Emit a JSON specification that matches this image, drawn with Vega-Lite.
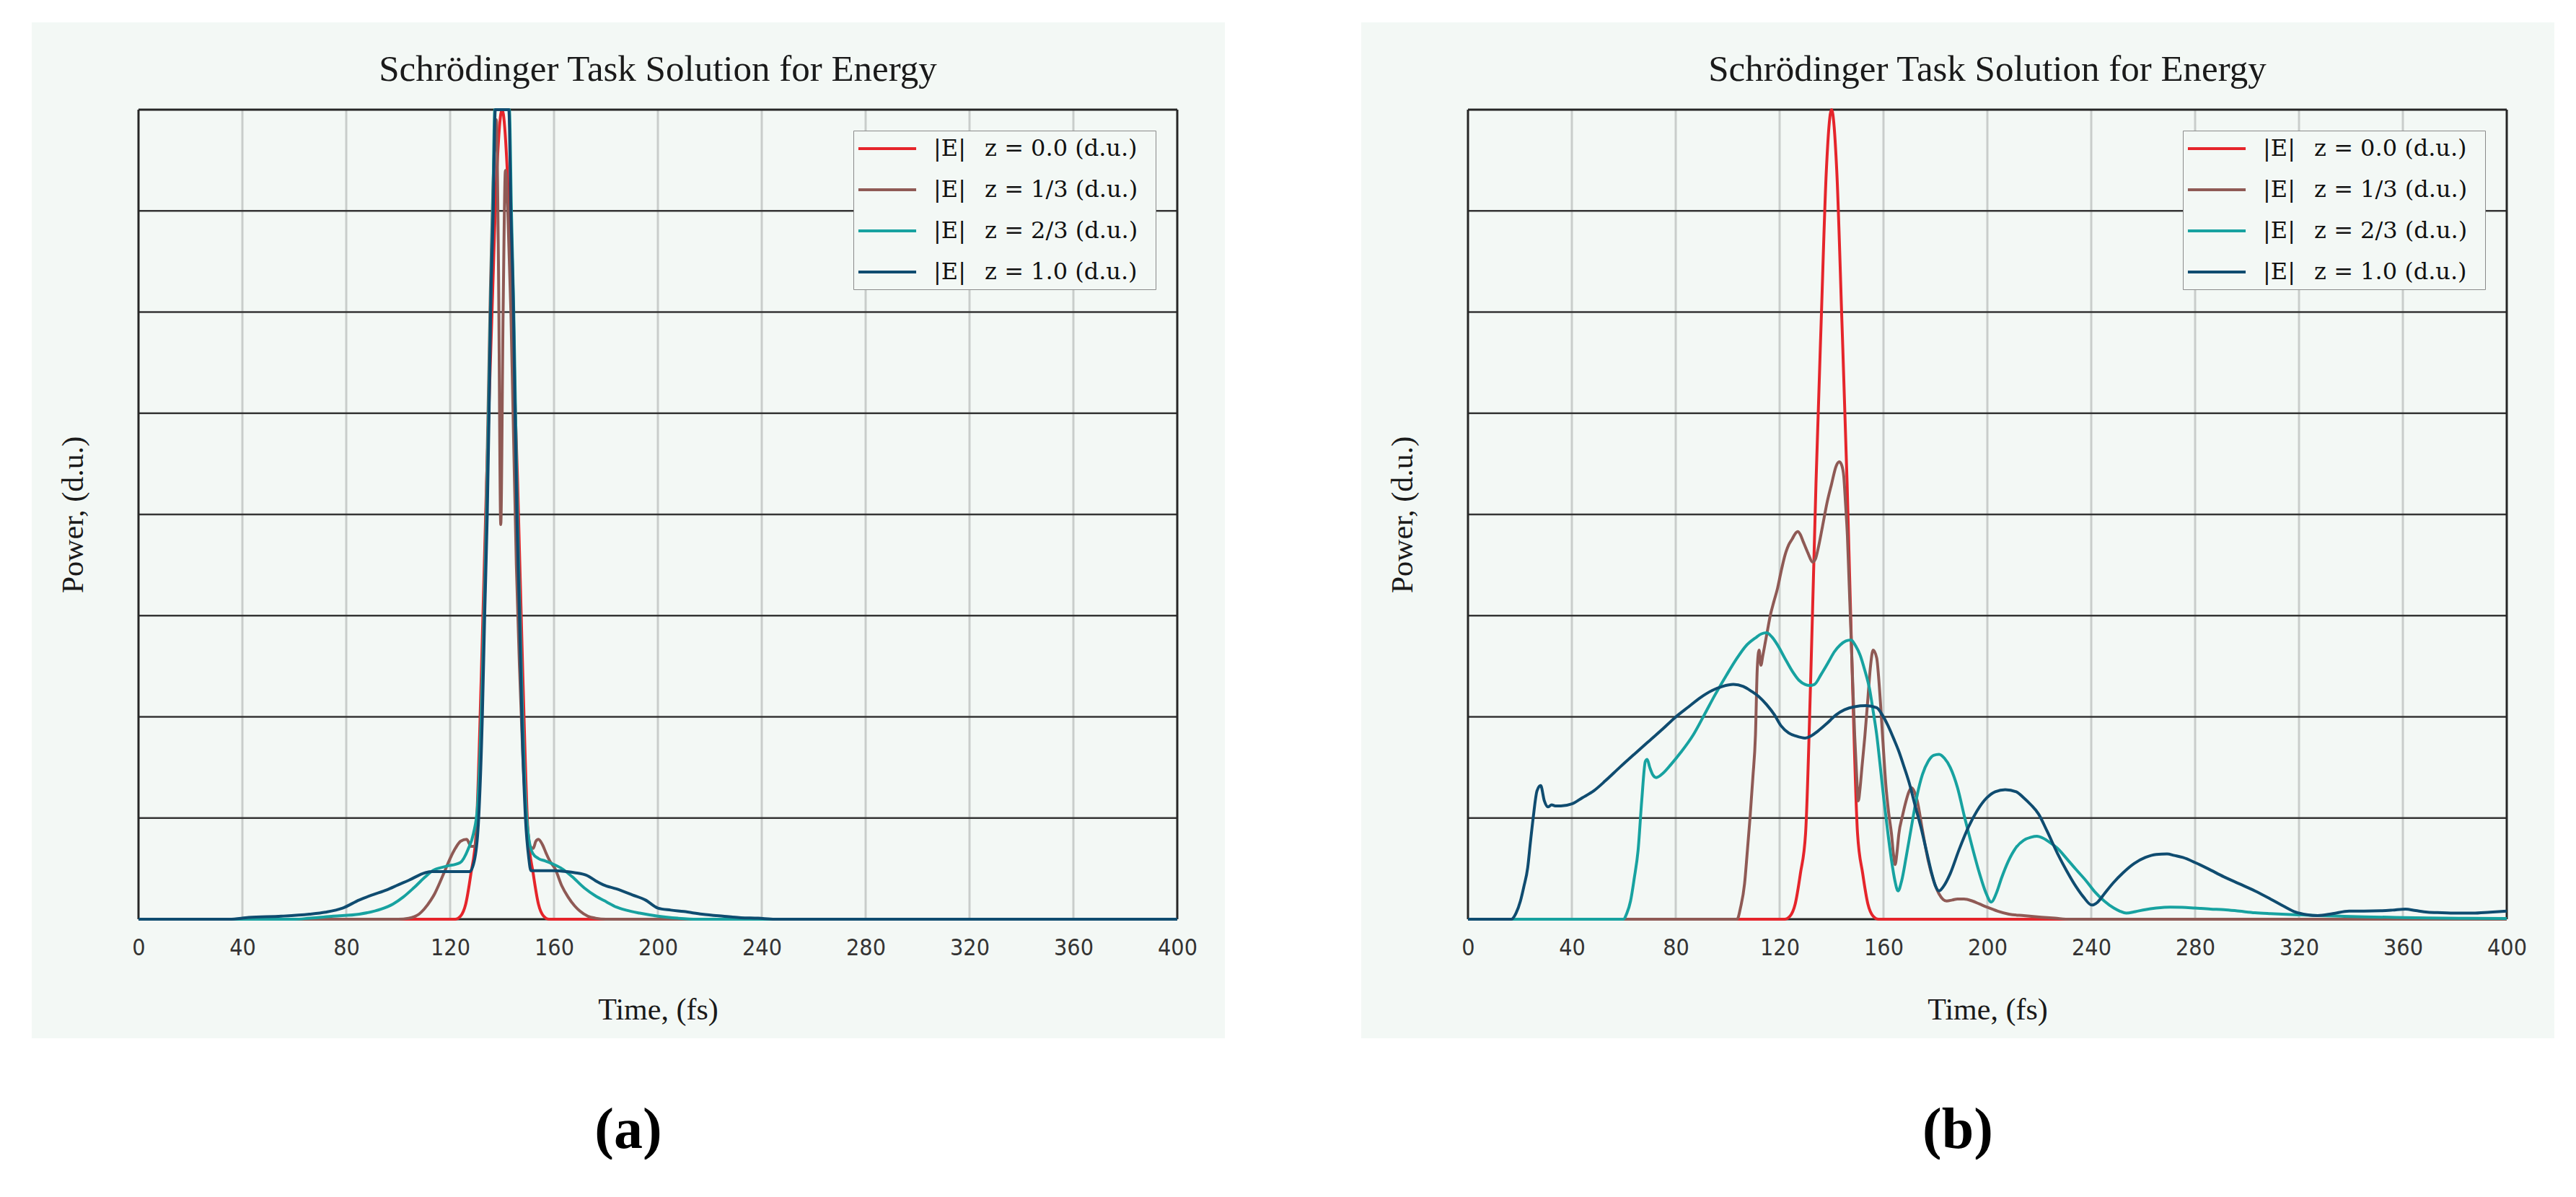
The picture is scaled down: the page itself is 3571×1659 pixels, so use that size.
{
  "$schema": "https://vega.github.io/schema/vega-lite/v6.json",
  "background": "white",
  "padding": {"left": 44, "top": 31, "right": 0, "bottom": 0},
  "config": {
    "view": {"stroke": null},
    "axisX": {"grid": false, "ticks": false, "tickSize": 0, "domain": false, "offset": -165, "labelPadding": 39, "labelBaseline": "middle", "labelFont": "Liberation Sans Narrow, DejaVu Sans Condensed, sans-serif", "labelFontSize": 32, "labelColor": "#333333", "labelFlush": false, "labelOverlap": false, "titleFont": "Liberation Serif", "titleFontSize": 42, "titleFontWeight": "normal", "titleColor": "#1a1a1a", "titleBaseline": "alphabetic", "titleY": 138},
    "axisY": {"grid": false, "ticks": false, "labels": false, "domain": false, "titleFont": "Liberation Serif", "titleFontSize": 42, "titleFontWeight": "normal", "titleColor": "#1a1a1a", "titleAngle": 270, "titleX": 57, "titleY": 682, "titleAlign": "center", "titleBaseline": "middle"},
    "legend": {"orient": "none", "legendX": 1139, "legendY": 150, "fillColor": "#f3f8f5", "strokeColor": "#8a8a8a", "padding": 8, "rowPadding": 24, "symbolType": "M-2.67,0L2.67,0", "symbolSize": 900, "symbolStrokeWidth": 4, "symbolOffset": 22, "labelFont": "DejaVu Serif", "labelFontSize": 32, "labelColor": "#111111", "labelOffset": 47, "labelLimit": 600},
    "title": {"font": "Liberation Serif", "fontSize": 51, "fontWeight": "normal", "color": "#1a1a1a"}
  },
  "datasets": {
    "a": [
      {"s":"z0","t":0,"p":0},{"s":"z0","t":120,"p":0},{"s":"z0","t":122,"p":0},{"s":"z0","t":124,"p":0.03},{"s":"z0","t":126,"p":0.15},{"s":"z0","t":128,"p":0.45},{"s":"z0","t":130,"p":0.85},{"s":"z0","t":132,"p":2.4},{"s":"z0","t":134,"p":4.3},{"s":"z0","t":136,"p":5.9},{"s":"z0","t":138,"p":7.4},{"s":"z0","t":140,"p":8},{"s":"z0","t":142,"p":7.4},{"s":"z0","t":144,"p":5.9},{"s":"z0","t":146,"p":4.3},{"s":"z0","t":148,"p":2.4},{"s":"z0","t":150,"p":0.85},{"s":"z0","t":152,"p":0.45},{"s":"z0","t":154,"p":0.15},{"s":"z0","t":156,"p":0.03},{"s":"z0","t":158,"p":0},{"s":"z0","t":160,"p":0},{"s":"z0","t":400,"p":0},
      {"s":"z13","t":0,"p":0},{"s":"z13","t":100,"p":0},{"s":"z13","t":104,"p":0.01},{"s":"z13","t":108,"p":0.05},{"s":"z13","t":110,"p":0.1},{"s":"z13","t":112.6,"p":0.19},{"s":"z13","t":114,"p":0.25},{"s":"z13","t":116,"p":0.36},{"s":"z13","t":118,"p":0.48},{"s":"z13","t":120,"p":0.6},{"s":"z13","t":122,"p":0.7},{"s":"z13","t":124,"p":0.77},{"s":"z13","t":126.4,"p":0.79},{"s":"z13","t":128,"p":0.72},{"s":"z13","t":129.5,"p":0.72},{"s":"z13","t":131,"p":1.2},{"s":"z13","t":132.5,"p":2.5},{"s":"z13","t":134,"p":4.2},{"s":"z13","t":135.5,"p":6.2},{"s":"z13","t":137,"p":7.6},{"s":"z13","t":137.8,"p":7.9},{"s":"z13","t":138.6,"p":6.5},{"s":"z13","t":139.5,"p":3.9},{"s":"z13","t":140.4,"p":6.0},{"s":"z13","t":141.3,"p":7.4},{"s":"z13","t":142.2,"p":7.0},{"s":"z13","t":143.4,"p":6},{"s":"z13","t":144.4,"p":4.8},{"s":"z13","t":145.5,"p":3.5},{"s":"z13","t":146.7,"p":2.5},{"s":"z13","t":148,"p":1.6},{"s":"z13","t":149.5,"p":1.0},{"s":"z13","t":150.8,"p":0.72},{"s":"z13","t":152,"p":0.7},{"s":"z13","t":153,"p":0.77},{"s":"z13","t":154,"p":0.79},{"s":"z13","t":155.5,"p":0.74},{"s":"z13","t":157,"p":0.65},{"s":"z13","t":158.5,"p":0.57},{"s":"z13","t":160.4,"p":0.5},{"s":"z13","t":163,"p":0.33},{"s":"z13","t":165.4,"p":0.22},{"s":"z13","t":168,"p":0.13},{"s":"z13","t":170,"p":0.08},{"s":"z13","t":173,"p":0.03},{"s":"z13","t":176,"p":0.01},{"s":"z13","t":180,"p":0},{"s":"z13","t":400,"p":0},
      {"s":"z23","t":0,"p":0},{"s":"z23","t":60,"p":0},{"s":"z23","t":65.8,"p":0.01},{"s":"z23","t":75,"p":0.03},{"s":"z23","t":85,"p":0.05},{"s":"z23","t":93.5,"p":0.1},{"s":"z23","t":98,"p":0.15},{"s":"z23","t":102,"p":0.22},{"s":"z23","t":106,"p":0.31},{"s":"z23","t":110.5,"p":0.42},{"s":"z23","t":113.3,"p":0.48},{"s":"z23","t":118,"p":0.52},{"s":"z23","t":123.9,"p":0.56},{"s":"z23","t":126.9,"p":0.69},{"s":"z23","t":129,"p":0.85},{"s":"z23","t":130.5,"p":1.1},{"s":"z23","t":132,"p":2},{"s":"z23","t":133.1,"p":3},{"s":"z23","t":134.1,"p":4},{"s":"z23","t":134.8,"p":5},{"s":"z23","t":135.5,"p":6},{"s":"z23","t":136.4,"p":7},{"s":"z23","t":137.2,"p":8},{"s":"z23","t":140,"p":8},{"s":"z23","t":142.8,"p":8},{"s":"z23","t":143.6,"p":7},{"s":"z23","t":144.5,"p":6},{"s":"z23","t":145.2,"p":5},{"s":"z23","t":145.9,"p":4},{"s":"z23","t":146.9,"p":3},{"s":"z23","t":147.9,"p":2},{"s":"z23","t":149,"p":1.2},{"s":"z23","t":150,"p":0.85},{"s":"z23","t":151.8,"p":0.65},{"s":"z23","t":154,"p":0.6},{"s":"z23","t":156.7,"p":0.575},{"s":"z23","t":160,"p":0.54},{"s":"z23","t":163,"p":0.5},{"s":"z23","t":167,"p":0.42},{"s":"z23","t":171.6,"p":0.31},{"s":"z23","t":176,"p":0.23},{"s":"z23","t":180.3,"p":0.17},{"s":"z23","t":184,"p":0.12},{"s":"z23","t":187.7,"p":0.09},{"s":"z23","t":193,"p":0.06},{"s":"z23","t":200,"p":0.03},{"s":"z23","t":207.6,"p":0.01},{"s":"z23","t":215,"p":0},{"s":"z23","t":400,"p":0},
      {"s":"z1","t":0,"p":0},{"s":"z1","t":35,"p":0},{"s":"z1","t":42.4,"p":0.017},{"s":"z1","t":55,"p":0.03},{"s":"z1","t":65.8,"p":0.05},{"s":"z1","t":72,"p":0.07},{"s":"z1","t":78.6,"p":0.11},{"s":"z1","t":85,"p":0.19},{"s":"z1","t":90,"p":0.24},{"s":"z1","t":95.6,"p":0.29},{"s":"z1","t":100,"p":0.34},{"s":"z1","t":104.1,"p":0.385},{"s":"z1","t":110.5,"p":0.46},{"s":"z1","t":113,"p":0.47},{"s":"z1","t":120,"p":0.47},{"s":"z1","t":127.5,"p":0.47},{"s":"z1","t":129.5,"p":0.6},{"s":"z1","t":131,"p":1.0},{"s":"z1","t":132.4,"p":2},{"s":"z1","t":133.3,"p":3},{"s":"z1","t":134.3,"p":4},{"s":"z1","t":135,"p":5},{"s":"z1","t":135.6,"p":6},{"s":"z1","t":136.6,"p":7},{"s":"z1","t":137.4,"p":8},{"s":"z1","t":140,"p":8},{"s":"z1","t":142.6,"p":8},{"s":"z1","t":143.4,"p":7},{"s":"z1","t":144.4,"p":6},{"s":"z1","t":145,"p":5},{"s":"z1","t":145.7,"p":4},{"s":"z1","t":146.7,"p":3},{"s":"z1","t":147.6,"p":2},{"s":"z1","t":149,"p":1.0},{"s":"z1","t":150.3,"p":0.6},{"s":"z1","t":151.1,"p":0.48},{"s":"z1","t":155,"p":0.48},{"s":"z1","t":160,"p":0.48},{"s":"z1","t":165,"p":0.47},{"s":"z1","t":167.9,"p":0.46},{"s":"z1","t":172.9,"p":0.43},{"s":"z1","t":176,"p":0.38},{"s":"z1","t":179,"p":0.34},{"s":"z1","t":184,"p":0.3},{"s":"z1","t":190.2,"p":0.24},{"s":"z1","t":195.2,"p":0.19},{"s":"z1","t":200,"p":0.11},{"s":"z1","t":205,"p":0.09},{"s":"z1","t":210,"p":0.076},{"s":"z1","t":217,"p":0.05},{"s":"z1","t":225,"p":0.03},{"s":"z1","t":232,"p":0.015},{"s":"z1","t":238.6,"p":0.01},{"s":"z1","t":245,"p":0},{"s":"z1","t":400,"p":0}
    ],
    "b": [
      {"s":"z0","t":0,"p":0},{"s":"z0","t":120,"p":0},{"s":"z0","t":122,"p":0},{"s":"z0","t":124,"p":0.03},{"s":"z0","t":126,"p":0.15},{"s":"z0","t":128,"p":0.45},{"s":"z0","t":130,"p":0.85},{"s":"z0","t":132,"p":2.4},{"s":"z0","t":134,"p":4.3},{"s":"z0","t":136,"p":5.9},{"s":"z0","t":138,"p":7.4},{"s":"z0","t":140,"p":8},{"s":"z0","t":142,"p":7.4},{"s":"z0","t":144,"p":5.9},{"s":"z0","t":146,"p":4.3},{"s":"z0","t":148,"p":2.4},{"s":"z0","t":150,"p":0.85},{"s":"z0","t":152,"p":0.45},{"s":"z0","t":154,"p":0.15},{"s":"z0","t":156,"p":0.03},{"s":"z0","t":158,"p":0},{"s":"z0","t":160,"p":0},{"s":"z0","t":400,"p":0},
      {"s":"z13","t":0,"p":0},{"s":"z13","t":103.6,"p":0},{"s":"z13","t":105,"p":0.12},{"s":"z13","t":106.5,"p":0.35},{"s":"z13","t":107.5,"p":0.65},{"s":"z13","t":108.6,"p":1.0},{"s":"z13","t":109.7,"p":1.4},{"s":"z13","t":110.7,"p":1.82},{"s":"z13","t":111.4,"p":2.48},{"s":"z13","t":112.1,"p":2.66},{"s":"z13","t":112.8,"p":2.51},{"s":"z13","t":113.5,"p":2.6},{"s":"z13","t":114.3,"p":2.71},{"s":"z13","t":115.3,"p":2.85},{"s":"z13","t":116.4,"p":3.0},{"s":"z13","t":117.8,"p":3.14},{"s":"z13","t":119.2,"p":3.27},{"s":"z13","t":120.6,"p":3.44},{"s":"z13","t":122.1,"p":3.6},{"s":"z13","t":123.5,"p":3.7},{"s":"z13","t":124.9,"p":3.76},{"s":"z13","t":126,"p":3.81},{"s":"z13","t":127,"p":3.83},{"s":"z13","t":128,"p":3.8},{"s":"z13","t":129.1,"p":3.73},{"s":"z13","t":130.9,"p":3.62},{"s":"z13","t":132.7,"p":3.53},{"s":"z13","t":133.8,"p":3.56},{"s":"z13","t":134.8,"p":3.66},{"s":"z13","t":136.5,"p":3.88},{"s":"z13","t":138.3,"p":4.12},{"s":"z13","t":140,"p":4.3},{"s":"z13","t":141.8,"p":4.48},{"s":"z13","t":143,"p":4.52},{"s":"z13","t":144,"p":4.48},{"s":"z13","t":144.7,"p":4.38},{"s":"z13","t":145.4,"p":4.1},{"s":"z13","t":146.1,"p":3.79},{"s":"z13","t":146.8,"p":3.3},{"s":"z13","t":147.5,"p":2.81},{"s":"z13","t":148.2,"p":2.3},{"s":"z13","t":148.9,"p":1.82},{"s":"z13","t":149.6,"p":1.45},{"s":"z13","t":150.3,"p":1.17},{"s":"z13","t":151,"p":1.3},{"s":"z13","t":151.7,"p":1.5},{"s":"z13","t":152.8,"p":1.8},{"s":"z13","t":153.9,"p":2.15},{"s":"z13","t":155,"p":2.5},{"s":"z13","t":156,"p":2.66},{"s":"z13","t":157.4,"p":2.58},{"s":"z13","t":158.1,"p":2.4},{"s":"z13","t":158.8,"p":2.15},{"s":"z13","t":159.8,"p":1.75},{"s":"z13","t":160.9,"p":1.33},{"s":"z13","t":162,"p":1.05},{"s":"z13","t":163.1,"p":0.84},{"s":"z13","t":163.8,"p":0.65},{"s":"z13","t":164.5,"p":0.54},{"s":"z13","t":165.2,"p":0.66},{"s":"z13","t":165.9,"p":0.84},{"s":"z13","t":167.3,"p":1.02},{"s":"z13","t":168.7,"p":1.17},{"s":"z13","t":169.8,"p":1.26},{"s":"z13","t":170.8,"p":1.3},{"s":"z13","t":171.9,"p":1.26},{"s":"z13","t":173,"p":1.17},{"s":"z13","t":175,"p":0.88},{"s":"z13","t":177.2,"p":0.58},{"s":"z13","t":179.3,"p":0.38},{"s":"z13","t":181.4,"p":0.25},{"s":"z13","t":184.3,"p":0.18},{"s":"z13","t":186.5,"p":0.19},{"s":"z13","t":188.5,"p":0.2},{"s":"z13","t":191,"p":0.2},{"s":"z13","t":194.2,"p":0.18},{"s":"z13","t":197,"p":0.15},{"s":"z13","t":199.8,"p":0.12},{"s":"z13","t":204,"p":0.08},{"s":"z13","t":208.3,"p":0.05},{"s":"z13","t":214,"p":0.035},{"s":"z13","t":220.8,"p":0.02},{"s":"z13","t":226,"p":0.01},{"s":"z13","t":232,"p":0},{"s":"z13","t":400,"p":0},
      {"s":"z23","t":0,"p":0},{"s":"z23","t":59.8,"p":0},{"s":"z23","t":61.2,"p":0.06},{"s":"z23","t":62.6,"p":0.18},{"s":"z23","t":64,"p":0.4},{"s":"z23","t":65.5,"p":0.68},{"s":"z23","t":66.9,"p":1.17},{"s":"z23","t":68.3,"p":1.56},{"s":"z23","t":69,"p":1.58},{"s":"z23","t":70,"p":1.5},{"s":"z23","t":71.1,"p":1.43},{"s":"z23","t":72.5,"p":1.4},{"s":"z23","t":75,"p":1.44},{"s":"z23","t":78.2,"p":1.53},{"s":"z23","t":82,"p":1.65},{"s":"z23","t":86.7,"p":1.82},{"s":"z23","t":91,"p":2.02},{"s":"z23","t":95.2,"p":2.22},{"s":"z23","t":99.5,"p":2.41},{"s":"z23","t":103.6,"p":2.58},{"s":"z23","t":107,"p":2.7},{"s":"z23","t":110.7,"p":2.78},{"s":"z23","t":113,"p":2.82},{"s":"z23","t":115,"p":2.83},{"s":"z23","t":117,"p":2.79},{"s":"z23","t":119.2,"p":2.71},{"s":"z23","t":122,"p":2.58},{"s":"z23","t":124.9,"p":2.45},{"s":"z23","t":127.5,"p":2.36},{"s":"z23","t":129.8,"p":2.32},{"s":"z23","t":131.6,"p":2.31},{"s":"z23","t":133.4,"p":2.32},{"s":"z23","t":136,"p":2.42},{"s":"z23","t":139,"p":2.55},{"s":"z23","t":141,"p":2.64},{"s":"z23","t":143.3,"p":2.71},{"s":"z23","t":145.5,"p":2.75},{"s":"z23","t":147.5,"p":2.76},{"s":"z23","t":149.3,"p":2.7},{"s":"z23","t":151,"p":2.61},{"s":"z23","t":152.8,"p":2.46},{"s":"z23","t":154.6,"p":2.28},{"s":"z23","t":156,"p":2.06},{"s":"z23","t":157.4,"p":1.82},{"s":"z23","t":158.8,"p":1.5},{"s":"z23","t":160.2,"p":1.17},{"s":"z23","t":161.7,"p":0.85},{"s":"z23","t":163.1,"p":0.58},{"s":"z23","t":164.4,"p":0.38},{"s":"z23","t":165.6,"p":0.28},{"s":"z23","t":167,"p":0.38},{"s":"z23","t":168.7,"p":0.61},{"s":"z23","t":170.8,"p":0.92},{"s":"z23","t":173,"p":1.23},{"s":"z23","t":175,"p":1.43},{"s":"z23","t":177.2,"p":1.56},{"s":"z23","t":179.3,"p":1.62},{"s":"z23","t":181.4,"p":1.63},{"s":"z23","t":183.5,"p":1.59},{"s":"z23","t":185.7,"p":1.5},{"s":"z23","t":188.5,"p":1.3},{"s":"z23","t":191.3,"p":1.0},{"s":"z23","t":194,"p":0.73},{"s":"z23","t":197,"p":0.45},{"s":"z23","t":199.3,"p":0.27},{"s":"z23","t":201.5,"p":0.17},{"s":"z23","t":203.5,"p":0.26},{"s":"z23","t":205.5,"p":0.41},{"s":"z23","t":208,"p":0.57},{"s":"z23","t":211.1,"p":0.71},{"s":"z23","t":214,"p":0.78},{"s":"z23","t":216.8,"p":0.81},{"s":"z23","t":219.1,"p":0.82},{"s":"z23","t":221.5,"p":0.8},{"s":"z23","t":224,"p":0.76},{"s":"z23","t":227,"p":0.7},{"s":"z23","t":230.5,"p":0.6},{"s":"z23","t":234.2,"p":0.49},{"s":"z23","t":238,"p":0.38},{"s":"z23","t":241.4,"p":0.27},{"s":"z23","t":245,"p":0.18},{"s":"z23","t":248.7,"p":0.11},{"s":"z23","t":251,"p":0.08},{"s":"z23","t":253.5,"p":0.06},{"s":"z23","t":257,"p":0.075},{"s":"z23","t":260.8,"p":0.095},{"s":"z23","t":265,"p":0.11},{"s":"z23","t":270.4,"p":0.12},{"s":"z23","t":275,"p":0.118},{"s":"z23","t":280,"p":0.11},{"s":"z23","t":286,"p":0.1},{"s":"z23","t":291,"p":0.095},{"s":"z23","t":297,"p":0.08},{"s":"z23","t":303,"p":0.064},{"s":"z23","t":309,"p":0.055},{"s":"z23","t":315,"p":0.048},{"s":"z23","t":321,"p":0.042},{"s":"z23","t":327.2,"p":0.036},{"s":"z23","t":336,"p":0.03},{"s":"z23","t":345.3,"p":0.024},{"s":"z23","t":357,"p":0.018},{"s":"z23","t":369.5,"p":0.012},{"s":"z23","t":385,"p":0.009},{"s":"z23","t":400,"p":0.007},
      {"s":"z1","t":0,"p":0},{"s":"z1","t":16.7,"p":0},{"s":"z1","t":18.5,"p":0.06},{"s":"z1","t":20.2,"p":0.18},{"s":"z1","t":21.5,"p":0.32},{"s":"z1","t":23,"p":0.51},{"s":"z1","t":24,"p":0.75},{"s":"z1","t":25.1,"p":1.0},{"s":"z1","t":26.6,"p":1.27},{"s":"z1","t":28,"p":1.32},{"s":"z1","t":29.4,"p":1.17},{"s":"z1","t":30.8,"p":1.11},{"s":"z1","t":32.2,"p":1.13},{"s":"z1","t":33.6,"p":1.12},{"s":"z1","t":35.8,"p":1.12},{"s":"z1","t":40,"p":1.14},{"s":"z1","t":44,"p":1.2},{"s":"z1","t":48.5,"p":1.27},{"s":"z1","t":53,"p":1.37},{"s":"z1","t":58.4,"p":1.5},{"s":"z1","t":64,"p":1.63},{"s":"z1","t":69.7,"p":1.76},{"s":"z1","t":75,"p":1.88},{"s":"z1","t":79.6,"p":1.99},{"s":"z1","t":85,"p":2.1},{"s":"z1","t":89.5,"p":2.19},{"s":"z1","t":94,"p":2.26},{"s":"z1","t":98,"p":2.3},{"s":"z1","t":102.2,"p":2.32},{"s":"z1","t":106,"p":2.3},{"s":"z1","t":109.3,"p":2.25},{"s":"z1","t":112,"p":2.2},{"s":"z1","t":115,"p":2.12},{"s":"z1","t":118,"p":2.02},{"s":"z1","t":120.6,"p":1.91},{"s":"z1","t":123.5,"p":1.84},{"s":"z1","t":126.3,"p":1.81},{"s":"z1","t":129.8,"p":1.79},{"s":"z1","t":132,"p":1.81},{"s":"z1","t":134.8,"p":1.86},{"s":"z1","t":138,"p":1.93},{"s":"z1","t":141.8,"p":2.02},{"s":"z1","t":145,"p":2.07},{"s":"z1","t":148.9,"p":2.1},{"s":"z1","t":153.2,"p":2.11},{"s":"z1","t":157.4,"p":2.09},{"s":"z1","t":159.5,"p":2.02},{"s":"z1","t":161.6,"p":1.92},{"s":"z1","t":164,"p":1.78},{"s":"z1","t":165.9,"p":1.66},{"s":"z1","t":168,"p":1.5},{"s":"z1","t":170.1,"p":1.33},{"s":"z1","t":172.2,"p":1.12},{"s":"z1","t":174.4,"p":0.91},{"s":"z1","t":176.5,"p":0.68},{"s":"z1","t":178.6,"p":0.45},{"s":"z1","t":180,"p":0.33},{"s":"z1","t":181.4,"p":0.28},{"s":"z1","t":183,"p":0.32},{"s":"z1","t":185.7,"p":0.45},{"s":"z1","t":189,"p":0.68},{"s":"z1","t":192.7,"p":0.91},{"s":"z1","t":196,"p":1.07},{"s":"z1","t":199.8,"p":1.2},{"s":"z1","t":203,"p":1.26},{"s":"z1","t":206.9,"p":1.28},{"s":"z1","t":211.1,"p":1.26},{"s":"z1","t":214,"p":1.2},{"s":"z1","t":216.8,"p":1.13},{"s":"z1","t":219.7,"p":1.04},{"s":"z1","t":223,"p":0.87},{"s":"z1","t":227,"p":0.65},{"s":"z1","t":230.5,"p":0.48},{"s":"z1","t":234.2,"p":0.32},{"s":"z1","t":237,"p":0.22},{"s":"z1","t":240.2,"p":0.14},{"s":"z1","t":242.5,"p":0.17},{"s":"z1","t":245,"p":0.25},{"s":"z1","t":248.5,"p":0.36},{"s":"z1","t":252.3,"p":0.46},{"s":"z1","t":256.5,"p":0.55},{"s":"z1","t":260.8,"p":0.61},{"s":"z1","t":265,"p":0.64},{"s":"z1","t":269.2,"p":0.645},{"s":"z1","t":272,"p":0.63},{"s":"z1","t":275.3,"p":0.61},{"s":"z1","t":280,"p":0.56},{"s":"z1","t":284.9,"p":0.5},{"s":"z1","t":291,"p":0.42},{"s":"z1","t":297,"p":0.35},{"s":"z1","t":303,"p":0.28},{"s":"z1","t":309,"p":0.2},{"s":"z1","t":314,"p":0.13},{"s":"z1","t":318.7,"p":0.07},{"s":"z1","t":323,"p":0.045},{"s":"z1","t":327.2,"p":0.036},{"s":"z1","t":333,"p":0.055},{"s":"z1","t":339.3,"p":0.08},{"s":"z1","t":345,"p":0.08},{"s":"z1","t":351.4,"p":0.083},{"s":"z1","t":356,"p":0.09},{"s":"z1","t":361,"p":0.1},{"s":"z1","t":365,"p":0.085},{"s":"z1","t":369.5,"p":0.07},{"s":"z1","t":375,"p":0.065},{"s":"z1","t":381.5,"p":0.06},{"s":"z1","t":387,"p":0.06},{"s":"z1","t":393.6,"p":0.07},{"s":"z1","t":400,"p":0.08}
    ],
    "xgrid": [{"g":40},{"g":80},{"g":120},{"g":160},{"g":200},{"g":240},{"g":280},{"g":320},{"g":360}],
    "ygrid": [{"g":1},{"g":2},{"g":3},{"g":4},{"g":5},{"g":6},{"g":7}],
    "one": [{}]
  },
  "spacing": 189,
  "resolve": {"scale": {"color": "independent"}, "legend": {"color": "independent"}},
  "hconcat": [
    {
      "title": {"text": "(a)", "orient": "bottom", "anchor": "middle", "font": "Liberation Serif", "fontSize": 80, "fontWeight": "bold", "color": "#000000", "offset": 128, "baseline": "middle"},
      "vconcat": [
        {
          "width": 1654,
          "height": 1408,
          "view": {"fill": "#f3f8f5", "stroke": null},
          "title": {"text": "Schrödinger Task Solution for Energy", "anchor": "middle", "dx": 41, "offset": -132, "baseline": "alphabetic"},
          "layer": [
            {
              "data": {"name": "xgrid"},
              "mark": {"type": "rule", "color": "#c9cdcb", "strokeWidth": 3},
              "encoding": {
                "x": {"field": "g", "type": "quantitative", "scale": {"domain": [0, 400], "range": [148, 1588], "nice": false, "zero": false}},
                "y": {"datum": 0, "scale": {"domain": [0, 8], "range": [1243, 121], "nice": false, "zero": false}},
                "y2": {"datum": 8}
              }
            },
            {
              "data": {"name": "ygrid"},
              "mark": {"type": "rule", "color": "#353535", "strokeWidth": 2.5},
              "encoding": {
                "y": {"field": "g", "type": "quantitative", "scale": {"domain": [0, 8], "range": [1243, 121], "nice": false, "zero": false}},
                "x": {"datum": 0, "scale": {"domain": [0, 400], "range": [148, 1588], "nice": false, "zero": false}},
                "x2": {"datum": 400}
              }
            },
            {
              "data": {"name": "one"},
              "mark": {"type": "rule", "color": "#262626", "strokeWidth": 3},
              "encoding": {"x": {"datum": 0}, "y": {"datum": 0}, "y2": {"datum": 8}}
            },
            {
              "data": {"name": "one"},
              "mark": {"type": "rule", "color": "#262626", "strokeWidth": 3},
              "encoding": {"x": {"datum": 400}, "y": {"datum": 0}, "y2": {"datum": 8}}
            },
            {
              "data": {"name": "one"},
              "mark": {"type": "rule", "color": "#262626", "strokeWidth": 3},
              "encoding": {"y": {"datum": 8}, "x": {"datum": 0}, "x2": {"datum": 400}}
            },
            {
              "data": {"name": "one"},
              "mark": {"type": "rule", "color": "#262626", "strokeWidth": 3},
              "encoding": {"y": {"datum": 0}, "x": {"datum": 0}, "x2": {"datum": 400}}
            },
            {
              "data": {"name": "a"},
              "mark": {"type": "line", "strokeWidth": 4, "interpolate": "monotone"},
              "encoding": {
                "x": {
                  "field": "t", "type": "quantitative",
                  "scale": {"domain": [0, 400], "range": [148, 1588], "nice": false, "zero": false},
                  "axis": {"values": [0, 40, 80, 120, 160, 200, 240, 280, 320, 360, 400], "format": "d", "title": "Time, (fs)"}
                },
                "y": {
                  "field": "p", "type": "quantitative",
                  "scale": {"domain": [0, 8], "range": [1243, 121], "nice": false, "zero": false},
                  "axis": {"title": "Power, (d.u.)"}
                },
                "color": {
                  "field": "s", "type": "nominal",
                  "scale": {"domain": ["z0", "z13", "z23", "z1"], "range": ["#e5252b", "#8f5a55", "#17a2a0", "#0f4c70"]},
                  "legend": {"title": null,
                    "labelExpr": "datum.value == 'z0' ? '|E| \u2002z = 0.0 (d.u.)\u2002\u200b' : datum.value == 'z13' ? '|E| \u2002z = 1/3 (d.u.)\u2002\u200b' : datum.value == 'z23' ? '|E| \u2002z = 2/3 (d.u.)\u2002\u200b' : '|E| \u2002z = 1.0 (d.u.)\u2002\u200b'"}
                }
              }
            }
          ]
        }
      ]
    },
    {
      "title": {"text": "(b)", "orient": "bottom", "anchor": "middle", "font": "Liberation Serif", "fontSize": 80, "fontWeight": "bold", "color": "#000000", "offset": 128, "baseline": "middle"},
      "vconcat": [
        {
          "width": 1654,
          "height": 1408,
          "view": {"fill": "#f3f8f5", "stroke": null},
          "title": {"text": "Schrödinger Task Solution for Energy", "anchor": "middle", "dx": 41, "offset": -132, "baseline": "alphabetic"},
          "layer": [
            {
              "data": {"name": "xgrid"},
              "mark": {"type": "rule", "color": "#c9cdcb", "strokeWidth": 3},
              "encoding": {
                "x": {"field": "g", "type": "quantitative", "scale": {"domain": [0, 400], "range": [148, 1588], "nice": false, "zero": false}},
                "y": {"datum": 0, "scale": {"domain": [0, 8], "range": [1243, 121], "nice": false, "zero": false}},
                "y2": {"datum": 8}
              }
            },
            {
              "data": {"name": "ygrid"},
              "mark": {"type": "rule", "color": "#353535", "strokeWidth": 2.5},
              "encoding": {
                "y": {"field": "g", "type": "quantitative", "scale": {"domain": [0, 8], "range": [1243, 121], "nice": false, "zero": false}},
                "x": {"datum": 0, "scale": {"domain": [0, 400], "range": [148, 1588], "nice": false, "zero": false}},
                "x2": {"datum": 400}
              }
            },
            {
              "data": {"name": "one"},
              "mark": {"type": "rule", "color": "#262626", "strokeWidth": 3},
              "encoding": {"x": {"datum": 0}, "y": {"datum": 0}, "y2": {"datum": 8}}
            },
            {
              "data": {"name": "one"},
              "mark": {"type": "rule", "color": "#262626", "strokeWidth": 3},
              "encoding": {"x": {"datum": 400}, "y": {"datum": 0}, "y2": {"datum": 8}}
            },
            {
              "data": {"name": "one"},
              "mark": {"type": "rule", "color": "#262626", "strokeWidth": 3},
              "encoding": {"y": {"datum": 8}, "x": {"datum": 0}, "x2": {"datum": 400}}
            },
            {
              "data": {"name": "one"},
              "mark": {"type": "rule", "color": "#262626", "strokeWidth": 3},
              "encoding": {"y": {"datum": 0}, "x": {"datum": 0}, "x2": {"datum": 400}}
            },
            {
              "data": {"name": "b"},
              "mark": {"type": "line", "strokeWidth": 4, "interpolate": "monotone"},
              "encoding": {
                "x": {
                  "field": "t", "type": "quantitative",
                  "scale": {"domain": [0, 400], "range": [148, 1588], "nice": false, "zero": false},
                  "axis": {"values": [0, 40, 80, 120, 160, 200, 240, 280, 320, 360, 400], "format": "d", "title": "Time, (fs)"}
                },
                "y": {
                  "field": "p", "type": "quantitative",
                  "scale": {"domain": [0, 8], "range": [1243, 121], "nice": false, "zero": false},
                  "axis": {"title": "Power, (d.u.)"}
                },
                "color": {
                  "field": "s", "type": "nominal",
                  "scale": {"domain": ["z0", "z13", "z23", "z1"], "range": ["#e5252b", "#8f5a55", "#17a2a0", "#0f4c70"]},
                  "legend": {"title": null,
                    "labelExpr": "datum.value == 'z0' ? '|E| \u2002z = 0.0 (d.u.)\u2002\u200b' : datum.value == 'z13' ? '|E| \u2002z = 1/3 (d.u.)\u2002\u200b' : datum.value == 'z23' ? '|E| \u2002z = 2/3 (d.u.)\u2002\u200b' : '|E| \u2002z = 1.0 (d.u.)\u2002\u200b'"}
                }
              }
            }
          ]
        }
      ]
    }
  ]
}
